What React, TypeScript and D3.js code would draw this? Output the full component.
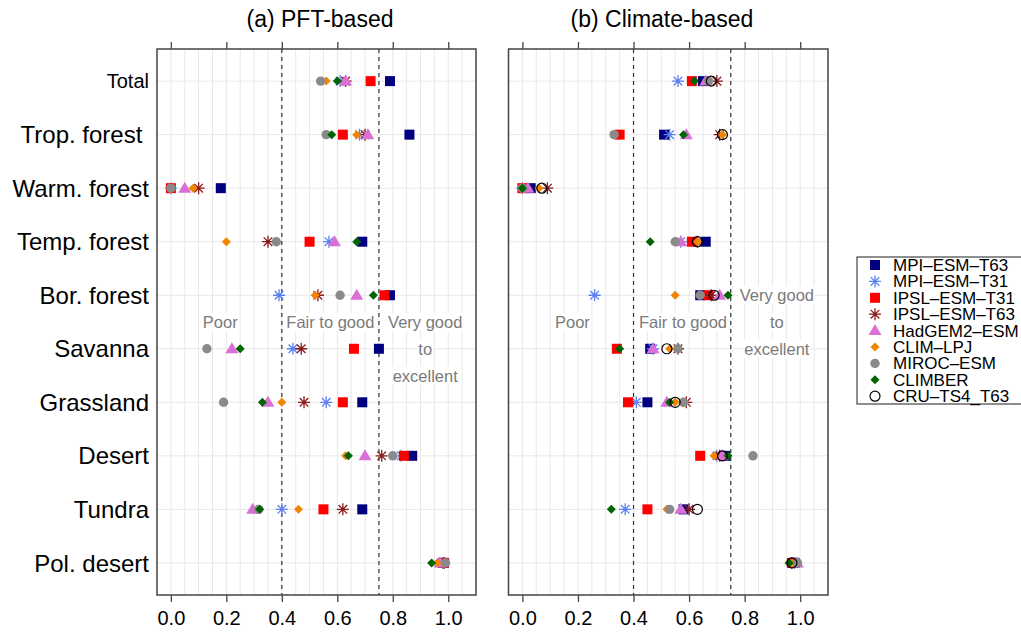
import React, { useRef, useEffect } from "react";
import * as d3 from "d3";

// rows, top to bottom
const categories = ["Total", "Trop. forest ", "Warm. forest", "Temp. forest", "Bor. forest", "Savanna", "Grassland", "Desert", "Tundra", "Pol. desert"];
const models = ["MPI–ESM–T63", "MPI–ESM–T31", "IPSL–ESM–T31", "IPSL–ESM–T63", "HadGEM2–ESM", "CLIM–LPJ", "MIROC–ESM", "CLIMBER", "CRU–TS4_T63"];
const tickValues = [0, 0.2, 0.4, 0.6, 0.8, 1.0];

// (a) PFT-based scores, one array per model (null = no value)
const pftMpiT63 = [0.79, 0.86, 0.18, 0.69, 0.79, 0.75, 0.69, 0.87, 0.69, 0.98];
const pftMpiT31 = [0.61, 0.68, 0.0, 0.57, 0.39, 0.44, 0.56, 0.83, 0.4, 0.98];
const pftIpslT31 = [0.72, 0.62, 0.0, 0.5, 0.77, 0.66, 0.62, 0.84, 0.55, 0.985];
const pftIpslT63 = [0.63, 0.7, 0.1, 0.35, 0.53, 0.47, 0.48, 0.76, 0.62, 0.985];
const pftHadgem = [0.63, 0.71, 0.05, 0.59, 0.67, 0.22, 0.35, 0.7, 0.295, 0.97];
const pftClimLpj = [0.56, 0.67, 0.08, 0.2, 0.52, null, 0.4, 0.63, 0.46, 0.96];
const pftMiroc = [0.54, 0.56, 0.0, 0.38, 0.61, 0.13, 0.19, 0.8, 0.317, 0.99];
const pftClimber = [0.6, 0.58, null, 0.67, 0.73, 0.25, 0.33, 0.64, 0.32, 0.94];
const pftCru = [null, null, null, null, null, null, null, null, null, null];

// (b) Climate-based scores
const cliMpiT63 = [0.65, 0.51, 0.03, 0.66, 0.64, 0.46, 0.45, 0.73, 0.58, 0.98];
const cliMpiT31 = [0.56, 0.53, 0.0, 0.57, 0.26, 0.47, 0.41, 0.7, 0.37, 0.98];
const cliIpslT31 = [0.61, 0.35, 0.0, 0.61, 0.67, 0.34, 0.38, 0.64, 0.45, 0.97];
const cliIpslT63 = [0.7, 0.71, 0.09, 0.63, 0.68, 0.56, 0.59, 0.71, 0.6, 0.97];
const cliHadgem = [0.66, 0.59, 0.02, 0.57, 0.71, 0.47, 0.52, 0.72, 0.57, 0.99];
const cliClimLpj = [0.67, 0.72, 0.06, 0.63, 0.55, 0.53, 0.55, 0.69, 0.52, 0.97];
const cliMiroc = [0.67, 0.33, 0.0, 0.55, 0.64, 0.56, 0.58, 0.83, 0.53, 0.99];
const cliClimber = [0.62, 0.58, 0.0, 0.46, 0.74, 0.35, 0.53, 0.74, 0.32, 0.96];
const cliCru = [0.68, 0.72, 0.07, 0.63, 0.69, 0.52, 0.55, 0.72, 0.63, 0.97];

const pftSeries = [pftMpiT63, pftMpiT31, pftIpslT31, pftIpslT63, pftHadgem, pftClimLpj, pftMiroc, pftClimber, pftCru];
const cliSeries = [cliMpiT63, cliMpiT31, cliIpslT31, cliIpslT63, cliHadgem, cliClimLpj, cliMiroc, cliClimber, cliCru];

const colors = ["#00007f", "#5b80f2", "#ff0000", "#8b1a1a", "#da70d6", "#f28500", "#8a8a8a", "#006400", "#000000"];
const shapes = ["square", "star", "square", "star", "triangle", "diamond", "circle", "diamond", "ring"];

const FONT = "'Liberation Sans', Arial, Helvetica, sans-serif";

function drawMarker(g, shape, color, x, y) {
  if (shape === "square") {
    g.append("rect").attr("x", x - 5).attr("y", y - 5).attr("width", 10).attr("height", 10).attr("fill", color);
  } else if (shape === "star") {
    const r = 6, d = 4.3;
    const p = `M${x - r},${y}L${x + r},${y}M${x},${y - r}L${x},${y + r}M${x - d},${y - d}L${x + d},${y + d}M${x - d},${y + d}L${x + d},${y - d}`;
    g.append("path").attr("d", p).attr("stroke", color).attr("stroke-width", 1.3).attr("fill", "none");
  } else if (shape === "triangle") {
    g.append("path").attr("d", `M${x},${y - 6.5}L${x + 6.5},${y + 4.5}L${x - 6.5},${y + 4.5}Z`).attr("fill", color);
  } else if (shape === "diamond") {
    const r = 4.5;
    g.append("path").attr("d", `M${x},${y - r}L${x + r},${y}L${x},${y + r}L${x - r},${y}Z`).attr("fill", color);
  } else if (shape === "circle") {
    g.append("circle").attr("cx", x).attr("cy", y).attr("r", 4.7).attr("fill", color);
  } else {
    g.append("circle").attr("cx", x).attr("cy", y).attr("r", 5).attr("fill", "none").attr("stroke", color).attr("stroke-width", 1.2);
  }
}

export default function App() {
  const svgRef = useRef(null);

  useEffect(() => {
    document.body.style.margin = "0";
    const svg = d3.select(svgRef.current);
    svg.selectAll("*").remove();

    const top = 49, bottom = 595;
    const yScale = d3.scaleLinear().domain([0.4, 10.6]).range([top, bottom]);

    const panels = [
      { title: "(a) PFT-based", left: 157, right: 476, titleX: 320, series: pftSeries,
        notes: [["Poor", 0.178, 5.5], ["Fair to good", 0.575, 5.5], ["Very good", 0.917, 5.5], ["to", 0.917, 6], ["excellent", 0.917, 6.5]] },
      { title: "(b) Climate-based", left: 508.5, right: 828, titleX: 662, series: cliSeries,
        notes: [["Poor", 0.18, 5.5], ["Fair to good", 0.578, 5.5], ["Very good", 0.916, 5], ["to", 0.916, 5.5], ["excellent", 0.916, 6]] },
    ];

    panels.forEach((p, pi) => {
      const xScale = d3.scaleLinear().domain([-0.05, 1.1]).range([p.left, p.right]);
      const g = svg.append("g");

      // grid
      d3.range(0, 1.1, 0.05).forEach(v => {
        g.append("line").attr("x1", xScale(v)).attr("x2", xScale(v)).attr("y1", top).attr("y2", bottom)
          .attr("stroke", "#e8e8e8").attr("stroke-width", 1);
      });
      categories.forEach((c, i) => {
        g.append("line").attr("x1", p.left).attr("x2", p.right).attr("y1", yScale(i + 1)).attr("y2", yScale(i + 1))
          .attr("stroke", "#e8e8e8").attr("stroke-width", 1);
      });

      // class boundaries
      [0.4, 0.75].forEach(v => {
        g.append("line").attr("x1", xScale(v)).attr("x2", xScale(v)).attr("y1", top).attr("y2", bottom)
          .attr("stroke", "#333").attr("stroke-width", 1.2).attr("stroke-dasharray", "4,4");
      });

      // annotations with white background
      p.notes.forEach(([t, v, r]) => {
        const tx = g.append("text").attr("x", xScale(v)).attr("y", yScale(r) + 6).attr("text-anchor", "middle")
          .attr("font-family", FONT).attr("font-size", 16.5).attr("fill", "#7a7a7a").text(t);
        const bb = tx.node().getBBox();
        g.insert("rect", () => tx.node()).attr("x", bb.x - 1).attr("y", bb.y).attr("width", bb.width + 2).attr("height", bb.height)
          .attr("fill", "#fff");
      });

      // markers
      p.series.forEach((vals, si) => {
        vals.forEach((v, i) => {
          if (v == null) return;
          drawMarker(g, shapes[si], colors[si], xScale(v), yScale(i + 1));
        });
      });

      // frame
      g.append("rect").attr("x", p.left).attr("y", top).attr("width", p.right - p.left).attr("height", bottom - top)
        .attr("fill", "none").attr("stroke", "#444").attr("stroke-width", 1.5);

      // axes
      g.append("g").attr("transform", `translate(0,${top})`)
        .call(d3.axisTop(xScale).tickValues(tickValues).tickSize(7).tickFormat(() => ""))
        .call(a => a.select(".domain").remove())
        .call(a => a.selectAll("line").attr("stroke", "#444").attr("stroke-width", 1.3));
      g.append("g").attr("transform", `translate(0,${bottom})`)
        .call(d3.axisBottom(xScale).tickValues(tickValues).tickSize(7).tickPadding(9).tickFormat(d3.format(".1f")))
        .call(a => a.select(".domain").remove())
        .call(a => a.selectAll("line").attr("stroke", "#444").attr("stroke-width", 1.3))
        .call(a => a.selectAll("text").attr("font-family", FONT).attr("font-size", 20).attr("fill", "#000"));

      g.append("text").attr("x", p.titleX).attr("y", 27).attr("text-anchor", "middle")
        .attr("font-family", FONT).attr("font-size", 23).text(p.title);

      if (pi === 0) {
        categories.forEach((c, i) => {
          const fs = i === 0 ? 20 : 24;
          g.append("text").attr("x", 149).attr("y", yScale(i + 1) + fs * 0.36).attr("text-anchor", "end")
            .attr("font-family", FONT).attr("font-size", fs).style("white-space", "pre").text(c);
        });
      }
    });

    // legend
    const lg = svg.append("g");
    lg.append("rect").attr("x", 857).attr("y", 257).attr("width", 170).attr("height", 147)
      .attr("fill", "#fff").attr("stroke", "#444").attr("stroke-width", 1.2);
    models.forEach((m, i) => {
      const y = 265 + i * 16.4;
      drawMarker(lg, shapes[i], colors[i], 875, y);
      lg.append("text").attr("x", 893).attr("y", y + 6).attr("font-family", FONT).attr("font-size", 17).text(m);
    });
  }, []);

  return (
    <div>
      <svg ref={svgRef} width={1021} height={633} style={{ display: "block" }}></svg>
    </div>
  );
}
